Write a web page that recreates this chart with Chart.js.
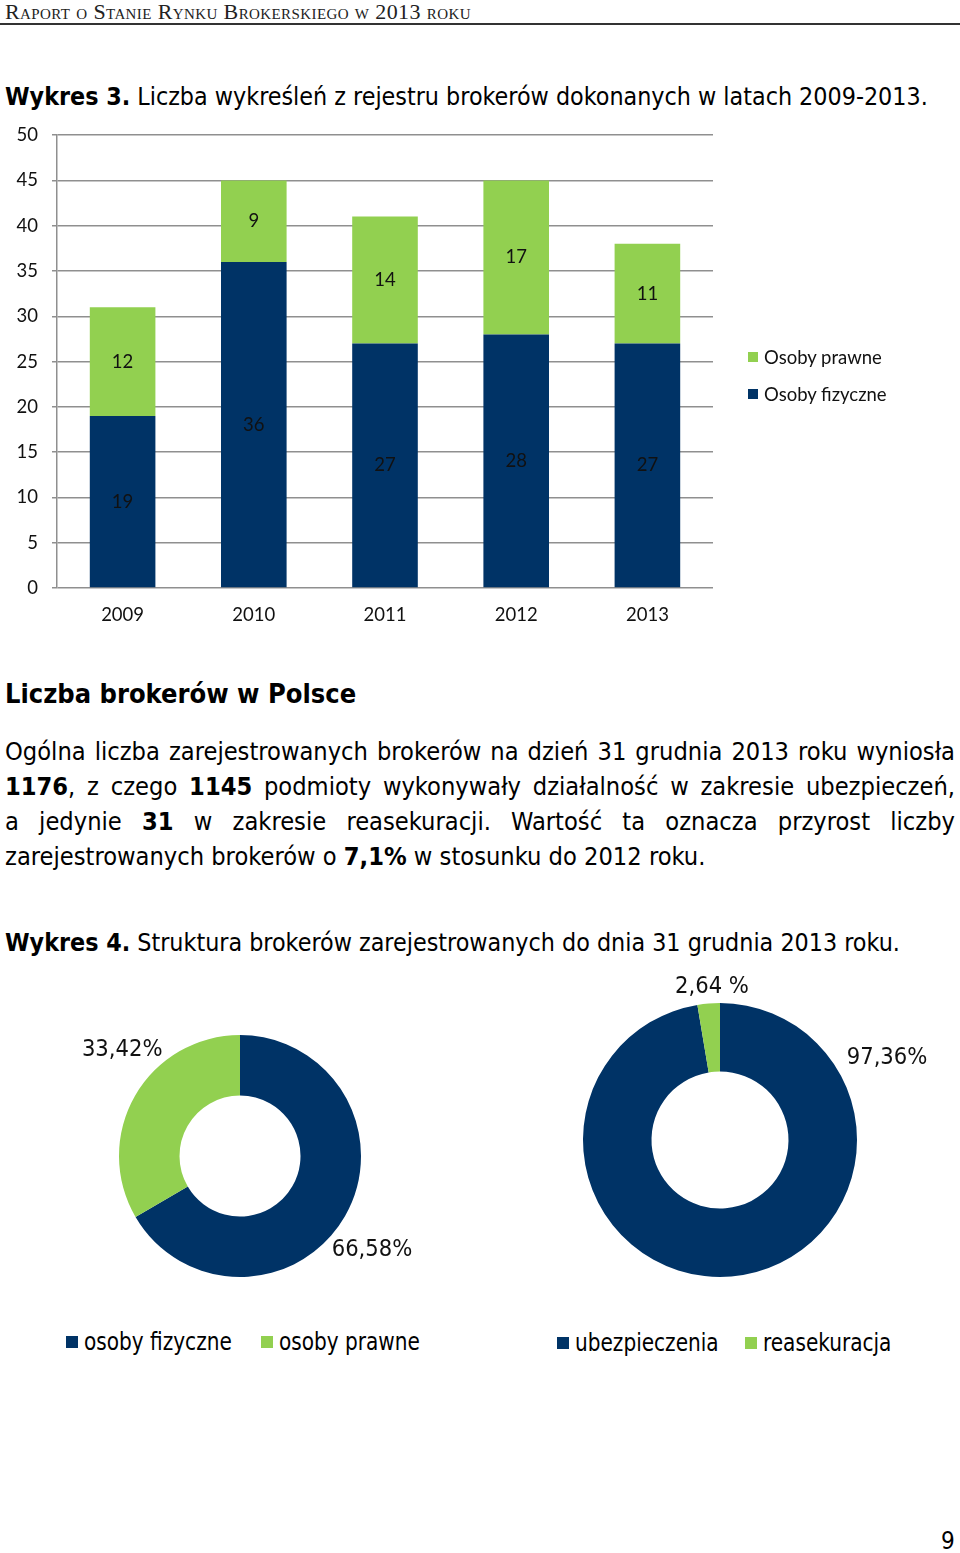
<!DOCTYPE html>
<html>
<head>
<meta charset="utf-8">
<script src="https://cdn.jsdelivr.net/npm/chart.js@4.4.1/dist/chart.umd.min.js"></script>
<style>
  body { margin: 0; background: #fff; }
  #page { position: relative; width: 960px; height: 1553px; overflow: hidden;
          font-family: "DejaVu Sans Condensed", "DejaVu Sans", sans-serif; color: #000; }
  .abs { position: absolute; white-space: nowrap; }
  .hdr { left: 5px; top: 0px; font-family: "Liberation Serif", serif; font-variant: small-caps;
         font-size: 22px; letter-spacing: 0.4px; line-height: 24px; color: #222; }
  .rule { left: 0; top: 23px; width: 960px; height: 2px; background: #333; }
  .title { left: 5px; font-size: 24.8px; line-height: 30px; }
  .para { left: 5px; top: 734px; width: 950px; font-size: 25.2px; line-height: 35px; white-space: normal; }
  .para div { text-align: justify; text-align-last: justify; }
  .para div.last { text-align-last: left; }
  .box { position: absolute; }
  .leg { font-family: Lato, sans-serif; font-size: 18.5px; line-height: 22px; color: #111; }
  .leg2 { font-size: 24px; line-height: 28px; transform: scaleX(0.93); transform-origin: left center; }
</style>
</head>
<body>
<div id="page">
  <div class="abs hdr">Raport o Stanie Rynku Brokerskiego w 2013 roku</div>
  <div class="abs rule"></div>

  <div class="abs title" style="top:82px"><b>Wykres 3.</b> Liczba wykreśleń z rejestru brokerów dokonanych w latach 2009-2013.</div>

  <div class="abs" style="left:0;top:110px;width:960px;height:530px"><canvas id="chart-0"></canvas></div>

  <div class="box" style="left:748px;top:352px;width:10px;height:10px;background:#92D050"></div>
  <div class="abs leg" style="left:764px;top:346px">Osoby prawne</div>
  <div class="box" style="left:748px;top:389px;width:10px;height:10px;background:#003366"></div>
  <div class="abs leg" style="left:764px;top:383px">Osoby fizyczne</div>

  <div class="abs title" style="top:678px;font-size:27px;line-height:32px"><b>Liczba brokerów w Polsce</b></div>

  <div class="abs para">
    <div>Ogólna liczba zarejestrowanych brokerów na dzień 31 grudnia 2013 roku wyniosła</div>
    <div><b>1176</b>, z czego <b>1145</b> podmioty wykonywały działalność w zakresie ubezpieczeń,</div>
    <div>a jedynie <b>31</b> w zakresie reasekuracji. Wartość ta oznacza przyrost liczby</div>
    <div class="last">zarejestrowanych brokerów o <b>7,1%</b> w stosunku do 2012 roku.</div>
  </div>

  <div class="abs title" style="top:928px"><b>Wykres 4.</b> Struktura brokerów zarejestrowanych do dnia 31 grudnia 2013 roku.</div>

  <div class="abs" style="left:0;top:960px;width:480px;height:350px"><canvas id="chart-1"></canvas></div>
  <div class="abs" style="left:480px;top:960px;width:480px;height:350px"><canvas id="chart-2"></canvas></div>

  <div class="box" style="left:66px;top:1336px;width:12px;height:12px;background:#003366"></div>
  <div class="abs leg2" style="left:84px;top:1328px">osoby fizyczne</div>
  <div class="box" style="left:261px;top:1336px;width:12px;height:12px;background:#92D050"></div>
  <div class="abs leg2" style="left:279px;top:1328px">osoby prawne</div>
  <div class="box" style="left:557px;top:1337px;width:12px;height:12px;background:#003366"></div>
  <div class="abs leg2" style="left:575px;top:1329px">ubezpieczenia</div>
  <div class="box" style="left:745px;top:1337px;width:12px;height:12px;background:#92D050"></div>
  <div class="abs leg2" style="left:763px;top:1329px">reasekuracja</div>

  <div class="abs" style="left:941px;top:1527px;font-size:24px;line-height:28px">9</div>
</div>

<script>
const years = ['2009', '2010', '2011', '2012', '2013']
const fizyczne = [19, 36, 27, 28, 27]
const prawne = [12, 9, 14, 17, 11]
const yTicksMax = 50
const yStep = 5

const structLabels = ['osoby fizyczne', 'osoby prawne']
const structValues = [66.58, 33.42]
const structTexts = ['66,58%', '33,42%']

const activityLabels = ['ubezpieczenia', 'reasekuracja']
const activityValues = [97.36, 2.64]
const activityTexts = ['97,36%', '2,64 %']

const navy = '#003366'
const green = '#92D050'

Chart.defaults.animation = false

// value labels in the middle of every stacked segment
const barLabels = {
  id: 'barLabels',
  afterDatasetsDraw(chart) {
    const ctx = chart.ctx
    ctx.save()
    ctx.font = '18.5px Lato'
    ctx.fillStyle = '#111'
    ctx.textAlign = 'center'
    ctx.textBaseline = 'middle'
    chart.data.datasets.forEach((ds, i) => {
      chart.getDatasetMeta(i).data.forEach((bar, j) => {
        ctx.fillText(ds.data[j], bar.x, (bar.y + bar.base) / 2)
      })
    })
    ctx.restore()
  }
}

// percent labels placed round the ring (angle from 12 o'clock, radius factor)
const ringLabels = {
  id: 'ringLabels',
  afterDatasetsDraw(chart, args, opts) {
    const ctx = chart.ctx
    ctx.save()
    ctx.font = '23.5px "DejaVu Sans Condensed"'
    ctx.fillStyle = '#111'
    ctx.textAlign = 'center'
    ctx.textBaseline = 'middle'
    chart.getDatasetMeta(0).data.forEach((arc, i) => {
      const [deg, f] = opts.place[i]
      const a = (deg - 90) * Math.PI / 180
      const r = arc.outerRadius * f
      ctx.fillText(opts.texts[i], arc.x + Math.cos(a) * r, arc.y + Math.sin(a) * r)
    })
    ctx.restore()
  }
}

new Chart(document.getElementById('chart-0'), {
  type: 'bar',
  data: {
    labels: years,
    datasets: [
      { label: 'Osoby fizyczne', data: fizyczne, backgroundColor: navy },
      { label: 'Osoby prawne', data: prawne, backgroundColor: green }
    ]
  },
  options: {
    responsive: true,
    maintainAspectRatio: false,
    layout: { padding: { left: 0, right: 247, top: 5, bottom: 7 } },
    datasets: { bar: { categoryPercentage: 1, barPercentage: 0.5 } },
    scales: {
      x: {
        stacked: true,
        grid: { display: false, tickLength: 0 },
        border: { display: false },
        ticks: { color: '#111', padding: 16, font: { family: 'Lato', size: 18.5 } },
        afterFit(scale) { scale.height = 45 }
      },
      y: {
        stacked: true,
        min: 0,
        max: yTicksMax,
        ticks: { stepSize: yStep, color: '#111', padding: 14, font: { family: 'Lato', size: 18.5 } },
        grid: { color: '#8f8f8f', lineWidth: 1.5, tickLength: 5 },
        border: { color: '#8f8f8f', width: 1.5 },
        afterFit(scale) { scale.width = 57 }
      }
    },
    plugins: { legend: { display: false }, tooltip: { enabled: false } }
  },
  plugins: [barLabels]
})

function ringChart(id, labels, values, texts, place, padding) {
  new Chart(document.getElementById(id), {
    type: 'doughnut',
    data: {
      labels,
      datasets: [{ data: values, backgroundColor: [navy, green], borderWidth: 0 }]
    },
    options: {
      responsive: true,
      maintainAspectRatio: false,
      cutout: '50%',
      layout: { padding },
      plugins: {
        legend: { display: false },
        tooltip: { enabled: false },
        ringLabels: { texts, place }
      }
    },
    plugins: [ringLabels]
  })
}

ringChart('chart-1', structLabels, structValues, structTexts,
  [[125.5, 1.34], [312, 1.31]], { left: 119, right: 119, top: 75, bottom: 33 })
ringChart('chart-2', activityLabels, activityValues, activityTexts,
  [[63.7, 1.36], [357, 1.12]], { left: 103, right: 103, top: 43, bottom: 33 })
</script>
</body>
</html>
